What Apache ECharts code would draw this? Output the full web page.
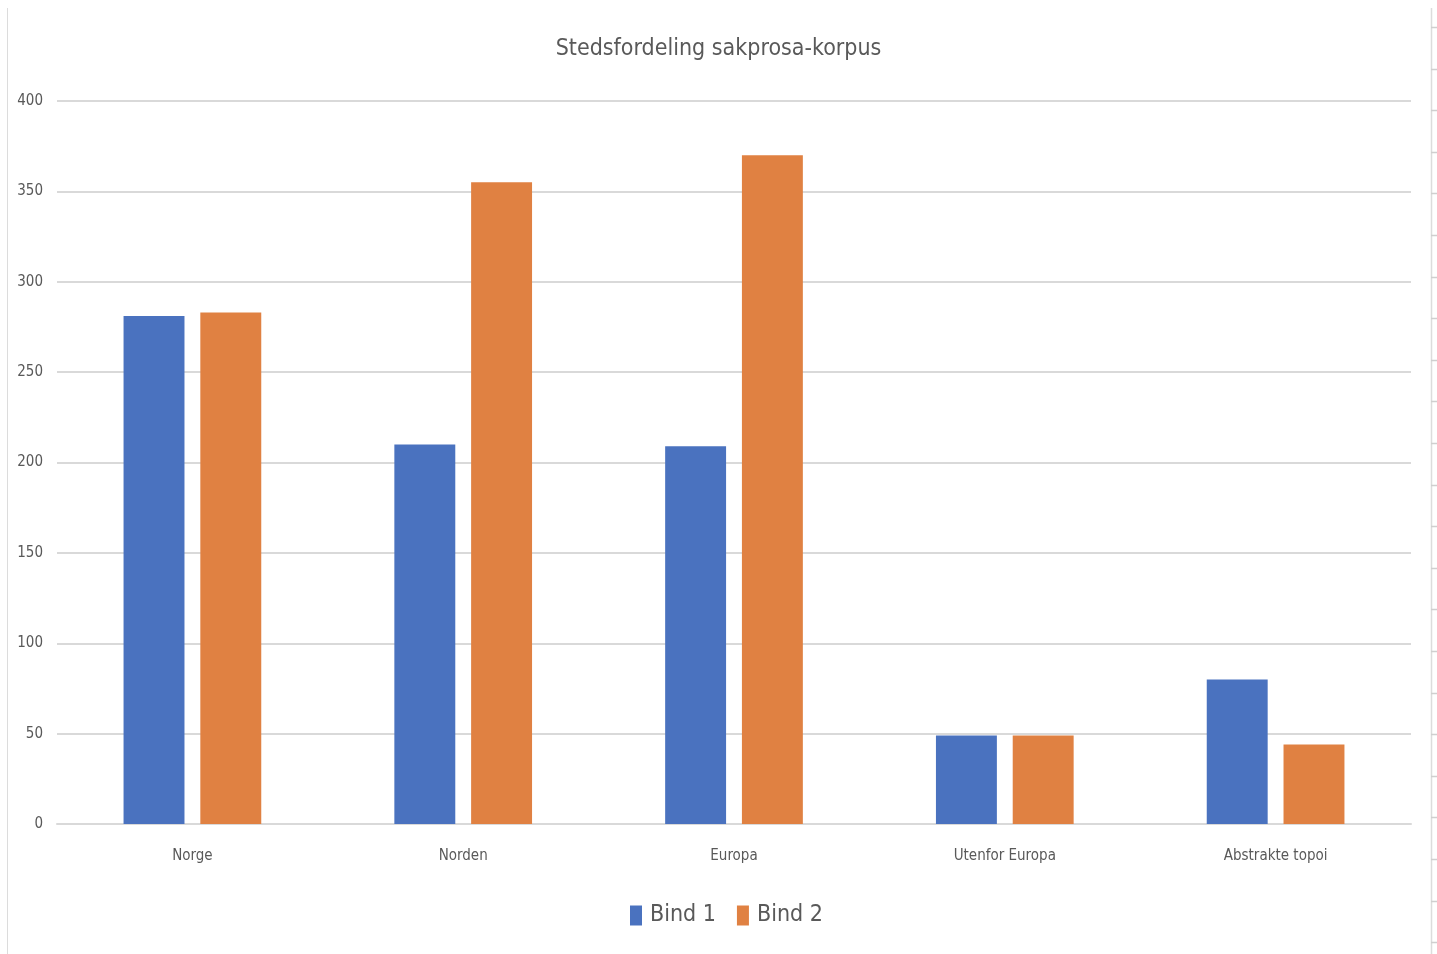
<!DOCTYPE html>
<html>
<head>
<meta charset="utf-8">
<script src="https://cdn.jsdelivr.net/npm/echarts@6/dist/echarts.min.js"></script>
<style>
  html, body { margin: 0; padding: 0; background: #fff; }
  #chart { width: 1437px; height: 954px; }
</style>
</head>
<body>
<div id="chart"></div>
<script>
// Place-name counts per category in the non-fiction corpus
const categories = ['Norge', 'Norden', 'Europa', 'Utenfor Europa', 'Abstrakte topoi'];
const bind1 = [281, 210, 209, 49, 80];
const bind2 = [283, 355, 370, 49, 44];
const seriesNames = ['Bind 1', 'Bind 2'];
const yTicks = { min: 0, max: 400, interval: 50 };

const FONT = '"DejaVu Sans Condensed", "Liberation Sans Narrow", "Open Sans", sans-serif';
const TEXT = '#595959';
const GRID = '#d9d9d9';

// Sheet frame decoration: left edge line and right edge ruler with ticks
const frame = [
  { type: 'line', shape: { x1: 7.5, y1: 8, x2: 7.5, y2: 954 }, style: { stroke: '#dcdcdc', lineWidth: 1 } },
  { type: 'line', shape: { x1: 1431.5, y1: 8, x2: 1431.5, y2: 954 }, style: { stroke: '#dcdcdc', lineWidth: 1.5 } }
];
for (let y = 27; y < 954; y += 41.6) {
  frame.push({ type: 'line', shape: { x1: 1431, y1: Math.round(y) + 0.5, x2: 1437, y2: Math.round(y) + 0.5 }, style: { stroke: '#cfcfcf', lineWidth: 1.5 } });
}

const chart = echarts.init(document.getElementById('chart'), null, { renderer: 'canvas' });
chart.setOption({
  backgroundColor: '#fff',
  animation: false,
  textStyle: { fontFamily: FONT },
  title: {
    text: 'Stedsfordeling sakprosa-korpus',
    left: 'center',
    top: 33,
    textStyle: { fontFamily: FONT, fontSize: 23, fontWeight: 'normal', color: TEXT }
  },
  legend: {
    bottom: 22,
    left: 625,
    itemWidth: 12,
    itemHeight: 20,
    itemGap: 21,
    icon: 'rect',
    textStyle: { fontFamily: FONT, fontSize: 23, color: TEXT, padding: [0, 0, 0, 3] },
    data: seriesNames
  },
  grid: { left: 57, right: 26, top: 101, bottom: 130, containLabel: false },
  xAxis: {
    type: 'category',
    data: categories,
    axisLine: { show: true, lineStyle: { color: GRID, width: 2 } },
    axisTick: { show: false },
    axisLabel: { fontFamily: FONT, fontSize: 15, color: TEXT, margin: 25 }
  },
  yAxis: {
    type: 'value',
    min: yTicks.min,
    max: yTicks.max,
    interval: yTicks.interval,
    axisLine: { show: false },
    axisTick: { show: false },
    splitLine: { lineStyle: { color: GRID, width: 2 } },
    axisLabel: { fontFamily: FONT, fontSize: 15, color: TEXT, margin: 14 }
  },
  series: [
    {
      name: seriesNames[0], type: 'bar', data: bind1,
      barWidth: '22.5%', barGap: '26%',
      itemStyle: { color: '#4A72BF' }
    },
    {
      name: seriesNames[1], type: 'bar', data: bind2,
      barWidth: '22.5%', barGap: '26%',
      itemStyle: { color: '#E08142' }
    }
  ],
  graphic: frame
});
</script>
</body>
</html>
